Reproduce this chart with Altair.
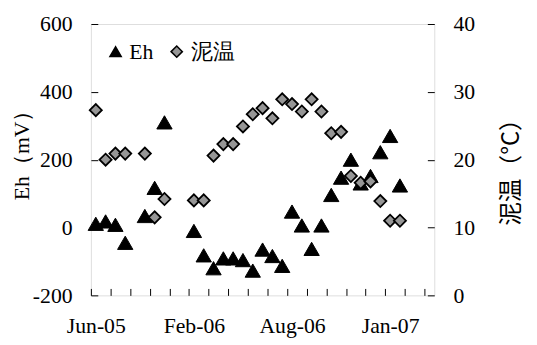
import altair as alt
import pandas as pd

# category index of each sampling date (category axis, 35 slots)
idx = list(range(35))
# Eh (mV), None = no sample
eh = [11, 18, 8, -45, None, 34, 117, 310, None, None,
      -10, -82, -120, -91, -91, -96, -127, -65, -84, -113,
      47, 6, -63, 6, 96, 147, 200, 130, 152, 222,
      270, 124, None, None, None]
# mud temperature (deg C)
temp = [27.3, 20.0, 20.9, 20.9, None, 20.9, 11.5, 14.2, None, None,
        14.0, 14.0, 20.6, 22.3, 22.3, 24.9, 26.7, 27.6, 26.1, 28.9,
        28.2, 27.1, 28.9, 27.1, 23.9, 24.1, 17.6, 16.6, 16.8, 13.9,
        11.0, 11.0, None, None, None]
series_names = ["Eh", "泥温"]
label_idx = [0, 10, 20, 30]
label_text = ["Jun-05", "Feb-06", "Aug-06", "Jan-07"]
eh_ticks = [-200, 0, 200, 400, 600]
t_ticks = [0, 10, 20, 30, 40]

rows = []
for i, v in zip(idx, eh):
    if v is not None:
        rows.append({"i": i, "series": "Eh", "value": v})
for i, v in zip(idx, temp):
    if v is not None:
        rows.append({"i": i, "series": "泥温", "value": v})
df = pd.DataFrame(rows)

W, H = 348, 275
n = len(idx)
half = W / n / 2

tick_vals = [-0.5 + 2 * k for k in range((n + 1) // 2)]
expr = " : ".join(
    f"datum.value == {li - 0.5} ? '{lt}'" for li, lt in zip(label_idx, label_text)
) + " : ''"

SERIF = "Times New Roman"
CJK = "Noto Sans CJK JP"

x_enc = alt.X(
    "i:Q",
    scale=alt.Scale(domain=[-0.5, n - 0.5], nice=False, zero=False),
    axis=alt.Axis(values=tick_vals, tickSize=7, offset=-7, domain=False, grid=False,
                  labelExpr=expr, labelOffset=half, labelOverlap=False, labelFlush=False,
                  labelPadding=21, title=None, labelFont=SERIF, labelFontSize=22,
                  labelColor="black", tickColor="black", tickWidth=1),
)

shape_s = alt.Scale(domain=series_names, range=["triangle-up", "diamond"])
fill_s = alt.Scale(domain=series_names, range=["black", "#969696"])
stroke_s = alt.Scale(domain=series_names, range=["black", "black"])

legend = alt.Legend(title=None, orient="none", legendX=14, legendY=17, direction="horizontal",
                    labelFont=SERIF, labelFontSize=22, labelColor="black", symbolSize=130,
                    symbolStrokeWidth=1.5, columnPadding=12, labelOffset=3, symbolOpacity=1)

base = alt.Chart(df)

eh_layer = base.transform_filter(alt.datum.series == "Eh").mark_point(
    filled=True, size=240, strokeWidth=1, opacity=1
).encode(
    x=x_enc,
    y=alt.Y("value:Q", scale=alt.Scale(domain=[-200, 600], nice=False),
            axis=alt.Axis(orient="left", values=eh_ticks, tickSize=7, offset=-7, domain=False,
                          grid=False, labelPadding=19, labelFont=SERIF, labelFontSize=22,
                          labelExpr="datum.value + ''",
                          labelColor="black", tickColor="black", title="Eh（mV）",
                          titleFont=SERIF, titleFontSize=22, titleFontWeight="normal",
                          titleColor="black", titleBaseline="middle", titleAngle=270,
                          titleX=-77, titleY=127)),
    shape=alt.Shape("series:N", scale=shape_s, legend=legend),
    fill=alt.Fill("series:N", scale=fill_s, legend=legend),
    stroke=alt.Stroke("series:N", scale=stroke_s, legend=legend),
)

t_layer = base.transform_filter(alt.datum.series == "泥温").mark_point(
    filled=True, size=150, strokeWidth=1.8, opacity=1
).encode(
    x=x_enc,
    y=alt.Y("value:Q", scale=alt.Scale(domain=[0, 40], nice=False),
            axis=alt.Axis(orient="right", values=t_ticks, tickSize=7, offset=-7, domain=False,
                          grid=False, labelPadding=19, labelFont=SERIF, labelFontSize=22,
                          labelColor="black", tickColor="black", title="泥温（°C）",
                          titleFont=CJK, titleFontSize=24, titleFontWeight="normal",
                          titleColor="black", titleAngle=270, titleBaseline="middle",
                          titleX=85, titleY=144)),
    shape=alt.Shape("series:N", scale=shape_s, legend=legend),
    fill=alt.Fill("series:N", scale=fill_s, legend=legend),
    stroke=alt.Stroke("series:N", scale=stroke_s, legend=legend),
)

chart = alt.layer(eh_layer, t_layer).resolve_scale(y="independent").properties(
    width=W, height=H, padding={"left": 3, "top": 3, "right": 6, "bottom": 0}
).configure_view(stroke="black", strokeWidth=2).configure(background="white")

chart.save("out.html", embed_options={"renderer": "svg", "actions": False})
